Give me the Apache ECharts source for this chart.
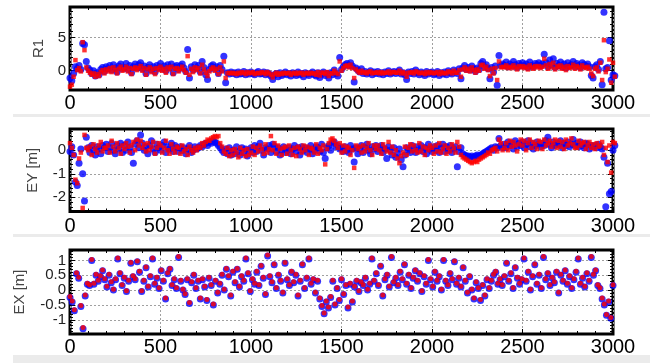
<!DOCTYPE html>
<html>
<head>
<meta charset="utf-8">
<script src="https://cdn.jsdelivr.net/npm/echarts@6/dist/echarts.min.js"></script>
<style>
  html, body { margin: 0; background: #fff; }
  #chart { width: 650px; height: 363px; }
</style>
</head>
<body>
<div id="chart"></div>
<script>
// spacing between samples along x, per panel
const r1Step = 10, eyStep = 10, exStep = 12;

// R1, one value every 10 (0 .. 3010)
const r1Blue = [
  -1.1,-1.5,-0.4,0.6,0.3,0.8,0.2,4.1,3.9,1.4,
  0.4,0.1,-0.4,0.0,-0.8,-0.3,-0.6,0.2,0.5,-0.1,
  0.6,0.3,0.8,0.1,0.9,0.4,-0.2,0.7,1.0,0.3,
  0.5,1.1,0.2,0.8,-0.3,0.6,1.0,0.4,0.9,1.2,
  0.3,0.7,-0.4,0.5,0.9,0.1,0.6,-0.2,0.8,0.4,
  1.1,0.3,0.7,0.0,0.9,0.5,1.0,-0.3,0.6,0.8,
  0.2,0.7,1.0,0.4,-0.1,3.2,-1.1,0.6,0.1,0.9,
  0.4,0.8,-0.2,1.4,0.5,-0.6,-1.3,0.2,0.7,0.9,
  0.3,0.6,-0.4,0.8,0.2,2.2,-1.8,-0.3,-0.5,-0.2,
  -0.4,-0.3,-0.6,-0.2,-0.5,-0.4,-0.1,-0.6,-0.3,-0.5,
  -0.2,-0.4,-0.6,-0.3,-0.1,-0.5,-0.4,-0.2,-0.6,-0.3,
  -0.5,-0.8,-1.3,-0.6,-0.4,-0.9,-0.3,-0.7,-0.5,-0.2,
  -0.6,-0.4,-0.8,-0.3,-0.5,-0.7,-0.2,-0.6,-0.4,-0.9,
  -0.3,-0.5,-0.7,-0.4,-0.2,-0.6,-0.8,-0.3,-1.0,-0.5,
  -0.2,-0.7,-0.4,-1.1,-0.3,-0.6,0.1,-0.4,-0.8,2.0,
  0.2,0.6,0.9,1.1,0.8,1.2,0.7,-1.7,0.4,0.1,
  -0.2,0.3,-0.4,-0.1,-0.5,-0.3,0.0,-0.6,-0.2,-0.4,
  -0.1,-0.5,-0.3,-0.6,-0.2,-0.4,0.0,-0.5,-0.3,-0.1,
  -0.4,-0.2,0.1,-0.5,-0.3,-0.6,-1.3,-0.2,-0.4,-0.1,
  -0.5,0.1,-0.3,-0.6,-0.2,-0.4,-0.7,-0.1,-0.5,-0.3,
  -0.2,-0.6,-0.4,-0.1,-0.7,-0.3,-0.5,-0.2,-0.6,0.0,
  -0.3,-0.5,0.1,-0.2,-0.4,0.3,-1.2,0.4,0.8,0.2,
  0.5,0.1,0.7,0.3,-0.1,0.4,0.2,1.1,1.4,0.6,
  0.9,0.3,-1.2,0.5,-0.2,0.7,-2.2,2.3,0.8,1.0,
  0.8,1.3,0.6,1.0,0.7,1.4,0.9,0.5,1.1,0.8,
  1.2,0.7,1.0,0.5,1.3,0.8,0.6,1.1,0.9,1.2,
  0.7,1.0,2.5,1.2,0.6,1.6,0.9,1.8,0.5,1.1,
  0.8,1.3,0.6,1.0,0.4,1.2,0.7,0.9,1.4,0.6,
  1.1,0.8,0.5,1.2,0.9,0.7,1.0,0.6,-0.7,-1.1,
  0.6,0.9,0.2,1.4,-2.1,8.8,0.3,0.5,4.5,-1.4,
  -0.6,-0.75
];
const r1Red = [
  -2.4,-2.1,-0.9,1.6,0.1,0.4,-0.1,4.3,3.1,0.5,
  0.0,-0.3,-0.6,-0.4,-0.9,-0.5,-0.8,-0.2,0.1,-0.4,
  0.2,-0.1,0.4,-0.2,0.5,0.1,-0.4,0.3,0.6,0.0,
  0.2,0.6,-0.1,0.4,-0.5,0.3,0.5,0.1,0.4,0.7,
  0.0,0.4,-0.6,0.2,0.5,-0.2,0.3,-0.5,0.4,0.1,
  0.6,0.0,0.3,-0.3,0.5,0.2,0.6,-0.5,0.3,0.4,
  -0.1,0.3,0.6,0.1,-0.3,2.2,-0.6,0.3,-0.2,0.5,
  0.1,0.4,-0.4,0.9,0.2,-0.3,-0.8,-0.1,0.3,0.5,
  0.0,0.3,-0.5,0.5,-0.1,1.4,-1.1,-0.4,-0.3,-0.4,
  -0.3,-0.4,-0.5,-0.3,-0.4,-0.2,-0.3,-0.5,-0.2,-0.4,
  -0.3,-0.2,-0.5,-0.4,-0.3,-0.4,-0.2,-0.3,-0.5,-0.2,
  -0.4,-0.6,-1.0,-0.5,-0.3,-0.6,-0.4,-0.5,-0.3,-0.4,
  -0.4,-0.3,-0.6,-0.4,-0.3,-0.5,-0.3,-0.4,-0.3,-0.6,
  -0.4,-0.3,-0.5,-0.3,-0.4,-0.4,-0.6,-0.2,-0.7,-0.3,
  -0.3,-0.5,-0.2,-0.8,-0.4,-0.4,0.0,-0.3,-0.5,1.4,
  0.0,0.4,0.7,0.8,0.5,0.9,0.4,-1.1,0.2,-0.1,
  -0.3,0.0,-0.3,-0.2,-0.4,-0.2,-0.1,-0.4,-0.3,-0.3,
  -0.2,-0.4,-0.2,-0.4,-0.3,-0.3,-0.1,-0.4,-0.2,-0.2,
  -0.3,-0.3,0.0,-0.4,-0.2,-0.4,-0.9,-0.3,-0.3,-0.2,
  -0.4,-0.1,-0.2,-0.4,-0.3,-0.3,-0.5,-0.2,-0.4,-0.2,
  -0.3,-0.4,-0.3,-0.2,-0.5,-0.2,-0.4,-0.3,-0.4,-0.1,
  -0.2,-0.4,0.0,-0.3,-0.3,0.1,-0.9,0.2,0.5,0.0,
  0.3,-0.1,0.5,0.1,-0.3,0.2,0.0,0.8,0.9,0.3,
  0.6,0.1,-0.8,0.3,-0.4,0.4,-1.4,1.4,0.5,0.6,
  0.5,0.8,0.4,0.6,0.4,0.8,0.5,0.2,0.7,0.5,
  0.7,0.4,0.6,0.2,0.8,0.5,0.3,0.7,0.5,0.7,
  0.4,0.6,1.8,0.8,0.3,1.0,0.5,1.2,0.2,0.7,
  0.5,0.8,0.3,0.6,0.1,0.7,0.4,0.5,0.9,0.3,
  0.7,0.5,0.2,0.8,0.5,0.4,0.6,0.3,-0.4,-0.8,
  0.3,0.5,-0.1,1.2,-1.4,4.6,-0.2,0.3,1.7,-1.8,
  1.2,-0.9
];

// EY [m], one value every 10 (0 .. 3010)
const eyBlue = [
  -0.05,0.15,-0.2,-1.35,-1.5,-0.55,0.05,-1.0,-2.15,0.55,
  0.1,-0.1,0.2,0.0,-0.2,0.15,0.05,-0.15,0.2,0.1,
  0.25,-0.05,0.1,0.3,0.0,-0.15,0.2,0.05,0.3,-0.1,
  0.2,0.0,0.35,0.1,-0.1,-0.55,0.25,0.4,0.1,0.65,
  0.3,0.0,0.15,-0.15,0.2,0.4,0.05,-0.1,0.25,0.1,
  0.0,0.2,0.35,-0.1,0.15,0.05,0.3,-0.05,0.2,0.1,
  -0.05,0.15,0.0,0.1,-0.15,0.05,0.2,-0.1,0.0,0.15,
  0.05,0.1,0.2,0.15,0.25,0.3,0.2,0.35,0.3,0.4,
  0.35,0.3,0.2,0.1,0.0,-0.1,0.05,-0.15,0.1,-0.2,
  0.0,-0.15,0.15,-0.05,-0.2,0.1,-0.1,0.05,-0.25,0.0,
  0.1,-0.1,0.2,-0.05,0.15,0.3,0.0,-0.2,0.1,0.05,
  0.2,-0.1,0.25,0.15,-0.05,0.1,-0.2,0.0,0.15,-0.1,
  0.0,0.1,-0.15,0.05,0.2,-0.05,0.1,-0.2,0.15,0.0,
  0.1,-0.1,0.05,0.2,-0.15,0.0,0.15,0.1,-0.05,0.25,
  -0.1,-0.35,0.1,0.2,0.0,0.3,0.35,0.15,0.2,0.05,
  0.1,-0.05,0.15,0.0,-0.1,0.2,0.05,-0.5,0.1,-0.15,
  0.05,0.2,-0.1,0.1,0.25,0.0,-0.15,0.15,0.05,0.2,
  -0.05,0.1,0.2,-0.1,0.05,-0.35,0.15,0.0,-0.2,0.1,
  -0.3,-0.15,0.05,-0.4,-0.7,-0.2,0.1,0.0,-0.1,0.2,
  0.05,-0.1,0.15,0.0,0.2,-0.05,0.1,-0.15,0.25,0.05,
  -0.05,0.15,0.0,0.2,-0.1,0.1,0.25,-0.05,0.15,0.0,
  0.2,-0.1,0.05,0.15,-0.7,-0.05,0.1,-0.15,-0.2,-0.25,
  -0.25,-0.3,-0.25,-0.3,-0.25,-0.2,-0.25,-0.2,-0.15,-0.1,
  -0.05,0.0,0.05,0.1,0.0,0.15,0.1,0.5,0.2,0.1,
  0.25,0.1,0.35,0.2,0.3,0.05,0.4,0.15,0.3,0.2,
  0.35,0.1,0.25,0.4,0.15,0.3,0.05,0.2,0.35,0.25,
  0.15,0.3,0.2,0.4,0.55,0.25,0.1,0.35,0.2,0.3,
  0.25,0.4,0.1,0.3,0.2,0.35,0.15,0.25,0.45,0.2,
  0.3,0.15,0.35,0.2,0.1,0.3,0.25,0.05,0.2,0.15,
  0.2,0.1,0.25,0.15,0.05,-0.3,-2.4,-0.55,-1.85,-1.75,
  0.0,0.2
];
const eyRed = [
  0.3,0.1,-0.2,-1.25,-1.4,-0.35,-0.1,-2.45,0.65,0.1,
  0.0,0.15,-0.2,0.25,0.05,-0.1,0.2,0.35,-0.05,0.1,
  0.1,0.2,-0.1,0.4,0.15,-0.05,0.3,0.1,-0.15,0.2,
  0.05,0.3,0.15,-0.1,0.2,0.35,0.0,0.45,0.2,0.4,
  0.1,0.25,-0.05,0.3,0.0,0.15,0.35,-0.15,0.1,0.3,
  0.2,-0.1,0.1,0.4,0.0,-0.15,0.25,0.05,-0.1,0.15,
  0.1,-0.15,0.2,-0.05,0.05,-0.2,0.15,0.0,-0.1,0.1,
  0.0,0.15,0.1,0.3,0.2,0.35,0.45,0.4,0.5,0.55,
  0.6,0.55,0.6,0.3,0.15,-0.05,-0.15,0.1,-0.25,0.0,
  -0.2,0.05,-0.1,-0.3,0.1,-0.15,0.0,-0.25,0.05,-0.2,
  -0.1,0.15,-0.2,0.1,-0.05,0.2,0.05,-0.15,0.25,-0.1,
  0.05,0.6,0.0,0.3,-0.15,0.2,0.05,-0.2,0.1,0.15,
  -0.15,0.2,0.0,-0.2,0.1,-0.25,0.15,0.05,-0.1,0.2,
  0.0,0.15,-0.2,0.1,0.05,-0.1,0.25,-0.15,0.1,0.0,
  0.2,-0.6,0.05,0.3,0.45,0.5,0.4,0.25,0.1,0.3,
  -0.1,0.2,-0.05,0.15,0.1,-0.2,0.0,-0.75,0.2,0.05,
  0.15,-0.1,0.2,-0.05,0.1,0.3,0.0,-0.2,0.2,0.05,
  0.2,0.0,-0.15,0.25,0.1,-0.05,0.35,-0.1,0.15,-0.2,
  0.0,-0.35,-0.55,-0.25,-0.1,0.15,-0.2,0.1,0.25,-0.05,
  0.2,0.0,-0.1,0.3,-0.05,0.15,-0.2,0.1,0.0,0.2,
  0.1,-0.15,0.2,-0.05,0.3,-0.1,0.05,0.2,-0.15,0.1,
  -0.05,0.25,0.1,-0.1,0.35,0.15,-0.2,-0.3,-0.35,-0.4,
  -0.45,-0.5,-0.55,-0.5,-0.45,-0.5,-0.4,-0.35,-0.3,-0.25,
  -0.2,-0.1,-0.15,0.0,0.05,0.1,-0.05,0.45,0.3,0.0,
  0.1,0.3,0.0,0.4,0.15,0.35,0.2,-0.05,0.25,0.45,
  0.2,0.4,0.0,0.3,0.45,0.1,0.35,0.25,0.05,0.4,
  0.35,0.05,0.45,0.2,0.3,0.4,0.15,0.3,0.45,0.1,
  0.4,0.15,0.35,0.05,0.45,0.2,0.3,0.5,0.25,0.1,
  0.1,0.4,0.2,0.3,0.35,0.05,0.2,0.35,0.1,0.25,
  0.05,0.3,0.15,0.2,0.35,-0.2,0.1,-0.5,0.2,-0.95,
  0.35,0.3
];

// EX [m], one value every 12 (0 .. 3000)
const exBlue = [
  -0.25,-0.4,-0.7,0.55,0.4,-0.55,-1.3,-0.2,0.2,0.15,
  1.0,0.2,0.5,0.3,0.45,0.65,0.35,0.1,0.5,0.25,
  0.0,0.35,1.05,0.55,0.15,0.4,-0.05,0.3,0.9,0.45,
  0.35,0.95,0.6,-0.05,0.3,0.75,0.1,0.45,1.05,0.2,
  0.4,0.05,0.65,0.3,-0.3,0.55,0.7,0.15,0.35,0.05,
  1.1,0.3,0.0,-0.15,0.35,-0.45,0.25,0.5,0.05,0.3,
  -0.3,0.35,0.1,-0.35,0.4,0.15,-0.5,0.3,-0.1,0.2,
  0.5,0.0,0.7,0.45,-0.2,0.6,0.25,0.7,0.1,0.45,
  0.3,1.05,0.55,-0.05,0.35,0.2,0.6,0.15,0.8,0.4,
  -0.15,1.15,0.45,0.25,0.85,0.05,0.5,0.3,-0.1,0.9,
  0.35,0.15,0.6,0.25,0.5,-0.2,0.3,0.85,0.05,0.4,
  1.05,0.2,0.35,-0.1,0.3,-0.3,-0.55,-0.8,-0.4,-0.6,
  -0.25,0.3,-0.5,0.05,-0.35,0.35,-0.15,0.15,-0.6,0.2,
  -0.4,0.1,0.3,-0.05,0.25,0.15,0.4,0.0,0.2,1.05,
  0.3,0.55,0.15,0.8,-0.2,0.35,0.5,0.1,1.1,0.25,
  0.4,0.15,0.6,0.35,0.85,0.2,0.5,0.05,0.4,0.65,
  0.3,0.55,-0.05,0.45,0.2,1.0,0.35,0.1,0.6,0.3,
  0.45,0.0,1.0,0.3,0.15,0.55,0.35,0.95,0.2,0.4,
  0.1,0.75,0.3,-0.1,0.45,0.0,-0.3,0.25,0.05,-0.35,
  0.15,-0.2,0.35,0.05,0.3,0.5,0.6,0.2,0.35,0.15,
  0.45,0.9,0.3,0.55,0.05,0.75,0.4,0.2,0.35,1.05,
  0.3,0.6,0.0,0.45,0.85,0.2,0.5,0.05,1.1,0.35,
  0.55,0.15,0.4,0.25,0.6,-0.1,0.5,0.3,0.65,0.2,
  0.45,0.05,0.35,0.6,1.05,0.2,0.4,0.1,0.55,0.3,
  1.1,0.5,0.65,0.15,0.05,-0.3,-0.5,-0.85,-0.4,-0.95,
  0.15
];
const exRed = [
  -0.22,-0.37,-0.66,0.58,0.43,-0.52,-1.26,-0.17,0.23,0.18,
  1.03,0.23,0.53,0.33,0.48,0.68,0.38,0.13,0.53,0.28,
  0.03,0.38,1.08,0.58,0.18,0.43,-0.02,0.33,0.93,0.48,
  0.38,0.98,0.63,-0.02,0.33,0.78,0.13,0.48,1.08,0.23,
  0.43,0.08,0.68,0.33,-0.27,0.58,0.73,0.18,0.38,0.08,
  1.13,0.33,0.03,-0.12,0.38,-0.42,0.28,0.53,0.08,0.33,
  -0.27,0.38,0.13,-0.32,0.43,0.18,-0.47,0.33,-0.07,0.23,
  0.53,0.03,0.73,0.48,-0.17,0.63,0.28,0.73,0.13,0.48,
  0.33,1.08,0.58,-0.02,0.38,0.23,0.63,0.18,0.83,0.43,
  -0.12,1.18,0.48,0.28,0.88,0.08,0.53,0.33,-0.07,0.93,
  0.38,0.18,0.63,0.28,0.53,-0.17,0.33,0.88,0.08,0.43,
  1.08,0.23,0.38,-0.07,0.33,-0.27,-0.52,-0.77,-0.37,-0.57,
  -0.22,0.33,-0.47,0.08,-0.32,0.38,-0.12,0.18,-0.57,0.23,
  -0.37,0.13,0.33,-0.02,0.28,0.18,0.43,0.03,0.23,1.08,
  0.33,0.58,0.18,0.83,-0.17,0.38,0.53,0.13,1.13,0.28,
  0.43,0.18,0.63,0.38,0.88,0.23,0.53,0.08,0.43,0.68,
  0.33,0.58,-0.02,0.48,0.23,1.03,0.38,0.13,0.63,0.33,
  0.48,0.03,1.03,0.33,0.18,0.58,0.38,0.98,0.23,0.43,
  0.13,0.78,0.33,-0.07,0.48,0.03,-0.27,0.28,0.08,-0.32,
  0.18,-0.17,0.38,0.08,0.33,0.53,0.63,0.23,0.38,0.18,
  0.48,0.93,0.33,0.58,0.08,0.78,0.43,0.23,0.38,1.08,
  0.33,0.63,0.03,0.48,0.88,0.23,0.53,0.08,1.13,0.38,
  0.58,0.18,0.43,0.28,0.63,-0.07,0.53,0.33,0.68,0.23,
  0.48,0.08,0.38,0.63,1.08,0.23,0.43,0.13,0.58,0.33,
  1.13,0.53,0.68,0.18,0.08,-0.27,-0.47,-0.82,-0.37,-0.92,
  0.18
];

// tick values
const r1Ticks = [0, 5];
const r1Minor = [-2, -1, 1, 2, 3, 4, 6, 7, 8, 9];
const eyTicks = [-2, -1, 0];
const eyMinor = [-2.4, -2.2, -1.8, -1.6, -1.4, -1.2, -0.8, -0.6, -0.4, -0.2, 0.2, 0.4, 0.6, 0.8];
const exTicks = [-1, -0.5, 0, 0.5, 1];
const exMinor = [-1.4, -1.3, -1.2, -1.1, -0.9, -0.8, -0.7, -0.6, -0.4, -0.3, -0.2, -0.1,
                 0.1, 0.2, 0.3, 0.4, 0.6, 0.7, 0.8, 0.9, 1.1, 1.2, 1.3];

const font = "'Liberation Sans', Arial, sans-serif";
const dotted = { color: '#a0a0a0', width: 1, type: [2, 2] };

const panels = [
  { name: 'R1', blue: r1Blue, red: r1Red, step: r1Step, min: -2.9, max: 9.6,
    ticks: r1Ticks, minor: r1Minor, top: 7, height: 83, nameGap: 18, labelMargin: 3,
    blueSize: 7, redSymbol: 'rect', redSize: 4.5 },
  { name: 'EY [m]', blue: eyBlue, red: eyRed, step: eyStep, min: -2.6, max: 0.9,
    ticks: eyTicks, minor: eyMinor, top: 129, height: 82.5, nameGap: 30, labelMargin: 5,
    blueSize: 7, redSymbol: 'rect', redSize: 4.5 },
  { name: 'EX [m]', blue: exBlue, red: exRed, step: exStep, min: -1.48, max: 1.35,
    ticks: exTicks, minor: exMinor, top: 250, height: 84, nameGap: 43, labelMargin: 3,
    blueSize: 7, redSymbol: 'circle', redSize: 5 }
];

function toPoints(vals, step) {
  return vals.map((v, i) => [i * step, v]);
}

const grid = [], xAxis = [], yAxis = [], series = [];
panels.forEach((p, i) => {
  grid.push({ left: 70, right: 37, top: p.top, height: p.height, show: true,
    borderColor: '#000', borderWidth: 3, backgroundColor: '#fff' });

  const tick = { inside: true, length: 5, lineStyle: { color: '#000' } };
  const minor = { show: true, splitNumber: 5, length: 3, lineStyle: { color: '#000' } };
  const xBase = { gridIndex: i, type: 'value', min: 0, max: 3000, interval: 500,
    axisLine: { show: false, onZero: false } };
  xAxis.push(Object.assign({}, xBase, {
    position: 'bottom', axisTick: tick, minorTick: minor,
    axisLabel: { margin: p.labelMargin, fontSize: 20, color: '#000', fontFamily: font,
      formatter: v => String(v) },
    splitLine: { show: true, lineStyle: dotted }
  }));
  xAxis.push(Object.assign({}, xBase, {
    position: 'top', axisTick: tick, minorTick: minor,
    axisLabel: { show: false }, splitLine: { show: false }
  }));

  const yBase = { gridIndex: i, type: 'value', min: p.min, max: p.max,
    axisLine: { show: false, onZero: false }, splitLine: { show: false } };
  yAxis.push(Object.assign({}, yBase, {
    position: 'left', name: p.name, nameLocation: 'middle', nameGap: p.nameGap,
    nameTextStyle: { fontSize: 15, color: '#444', fontFamily: font },
    axisTick: { inside: true, length: 5, customValues: p.ticks, lineStyle: { color: '#000' } },
    axisLabel: { customValues: p.ticks, margin: 4, fontSize: 15, color: '#222', fontFamily: font },
    splitLine: { show: true, lineStyle: dotted }
  }));
  ['left', 'right'].forEach(side => {
    yAxis.push(Object.assign({}, yBase, {
      position: side, axisLabel: { show: false },
      axisTick: { inside: true, length: 3, customValues: p.minor, lineStyle: { color: '#000' } }
    }));
  });
  yAxis.push(Object.assign({}, yBase, {
    position: 'right', axisLabel: { show: false },
    axisTick: { inside: true, length: 5, customValues: p.ticks, lineStyle: { color: '#000' } }
  }));

  series.push({
    type: 'scatter', xAxisIndex: 2 * i, yAxisIndex: 4 * i, clip: false, silent: true,
    symbol: 'circle', symbolSize: p.blueSize, itemStyle: { color: '#0000ff' },
    data: toPoints(p.blue, p.step)
  });
  series.push({
    type: 'scatter', xAxisIndex: 2 * i, yAxisIndex: 4 * i, clip: false, silent: true,
    symbol: p.redSymbol, symbolSize: p.redSize, itemStyle: { color: '#ff0000' },
    data: toPoints(p.red, p.step)
  });
});

const myChart = echarts.init(document.getElementById('chart'));
myChart.setOption({
  animation: false,
  backgroundColor: '#fff',
  // light grey strips between the stacked panels
  graphic: [
    { type: 'rect', silent: true, shape: { x: 13, y: 114, width: 637, height: 3 }, style: { fill: '#ebebeb' } },
    { type: 'rect', silent: true, shape: { x: 13, y: 234, width: 637, height: 3 }, style: { fill: '#ebebeb' } },
    { type: 'rect', silent: true, shape: { x: 13, y: 355, width: 637, height: 8 }, style: { fill: '#ebebeb' } }
  ],
  grid: grid,
  xAxis: xAxis,
  yAxis: yAxis,
  series: series
});
</script>
</body>
</html>
